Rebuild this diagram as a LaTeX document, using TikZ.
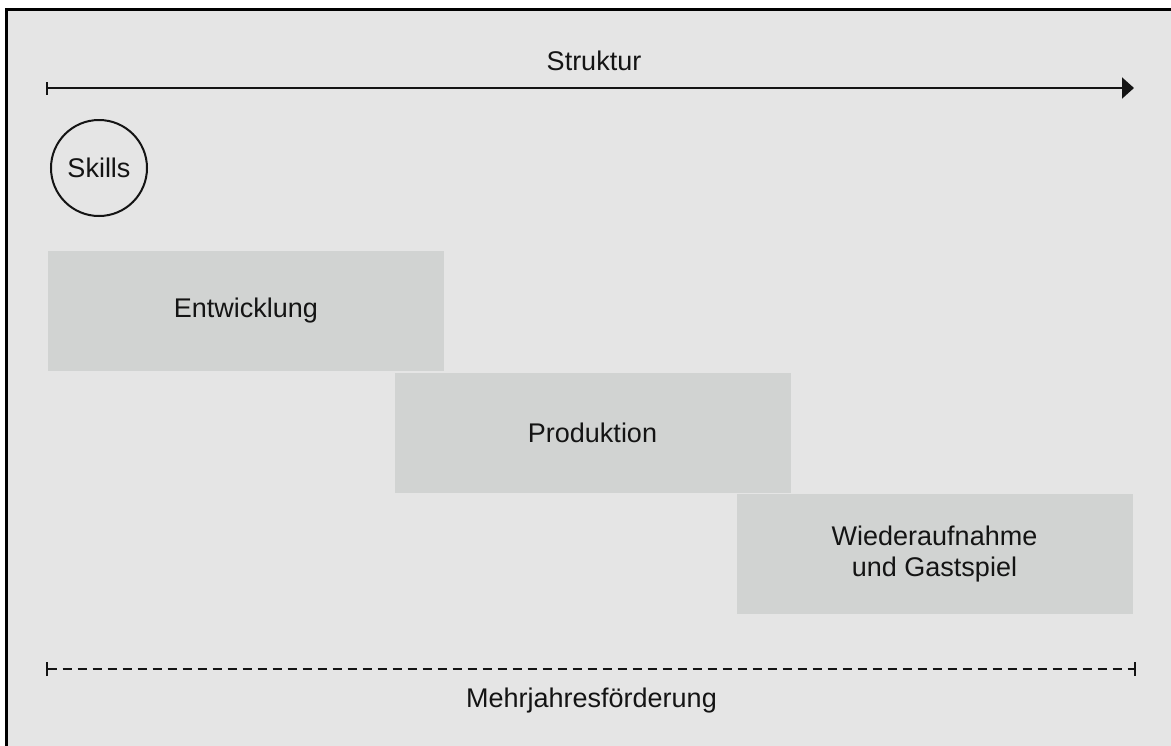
\documentclass[tikz,border=0pt]{standalone}
\usepackage{fontspec}
\setmainfont{Liberation Sans}
\usetikzlibrary{arrows.meta}
\definecolor{bgcol}{RGB}{229,229,229}
\definecolor{boxcol}{RGB}{209,211,210}
\definecolor{inkcol}{RGB}{20,20,20}
\tikzset{
  lbl/.style={font=\fontsize{27}{31}\selectfont, text=inkcol, inner sep=0pt},
  phase/.style={fill=boxcol, draw=none, minimum width=396pt, minimum height=120pt, inner sep=0pt, align=center, font=\fontsize{27}{31}\selectfont, text=inkcol},
  axisline/.style={line width=2pt, draw=inkcol},
}
\begin{document}
\begin{tikzpicture}[x=1pt,y=-1pt]
\useasboundingbox (0,0) rectangle (1171,745);
\clip (0,0) rectangle (1171,745);
\fill[white] (0,0) rectangle (1171,745);
\draw[line width=3pt, fill=bgcol] (6.5,9.5) rectangle (1190,770);
% top axis
\coordinate (a1) at (46,88);
\coordinate (a2) at (1134,88);
\draw[axisline, {Bar[width=13pt]}-{Triangle[length=12pt,width=21pt]}] (a1) -- (a2);
\node[lbl] (struktur) at (594,61) {Struktur};
% skills
\node[draw=inkcol, line width=2pt, circle, minimum size=96pt, inner sep=0pt, font=\fontsize{27}{31}\selectfont, text=inkcol] (skills) at (99,168) {Skills};
% phases
\node[phase] (entw) at (246,311) {Entwicklung};
\node[phase] (prod) at (592.5,433) {Produktion};
\node[phase] (wied) at (934.5,554) {Wiederaufnahme\\und Gastspiel};
% bottom axis
\coordinate (b1) at (46,669);
\coordinate (b2) at (1136,669);
\draw[axisline, dash pattern=on 9pt off 6pt, {Bar[width=14pt]}-{Bar[width=14pt]}] (b1) -- (b2);
\node[lbl] (mehr) at (591.5,701) {Mehrjahresförderung};
\end{tikzpicture}
\end{document}
